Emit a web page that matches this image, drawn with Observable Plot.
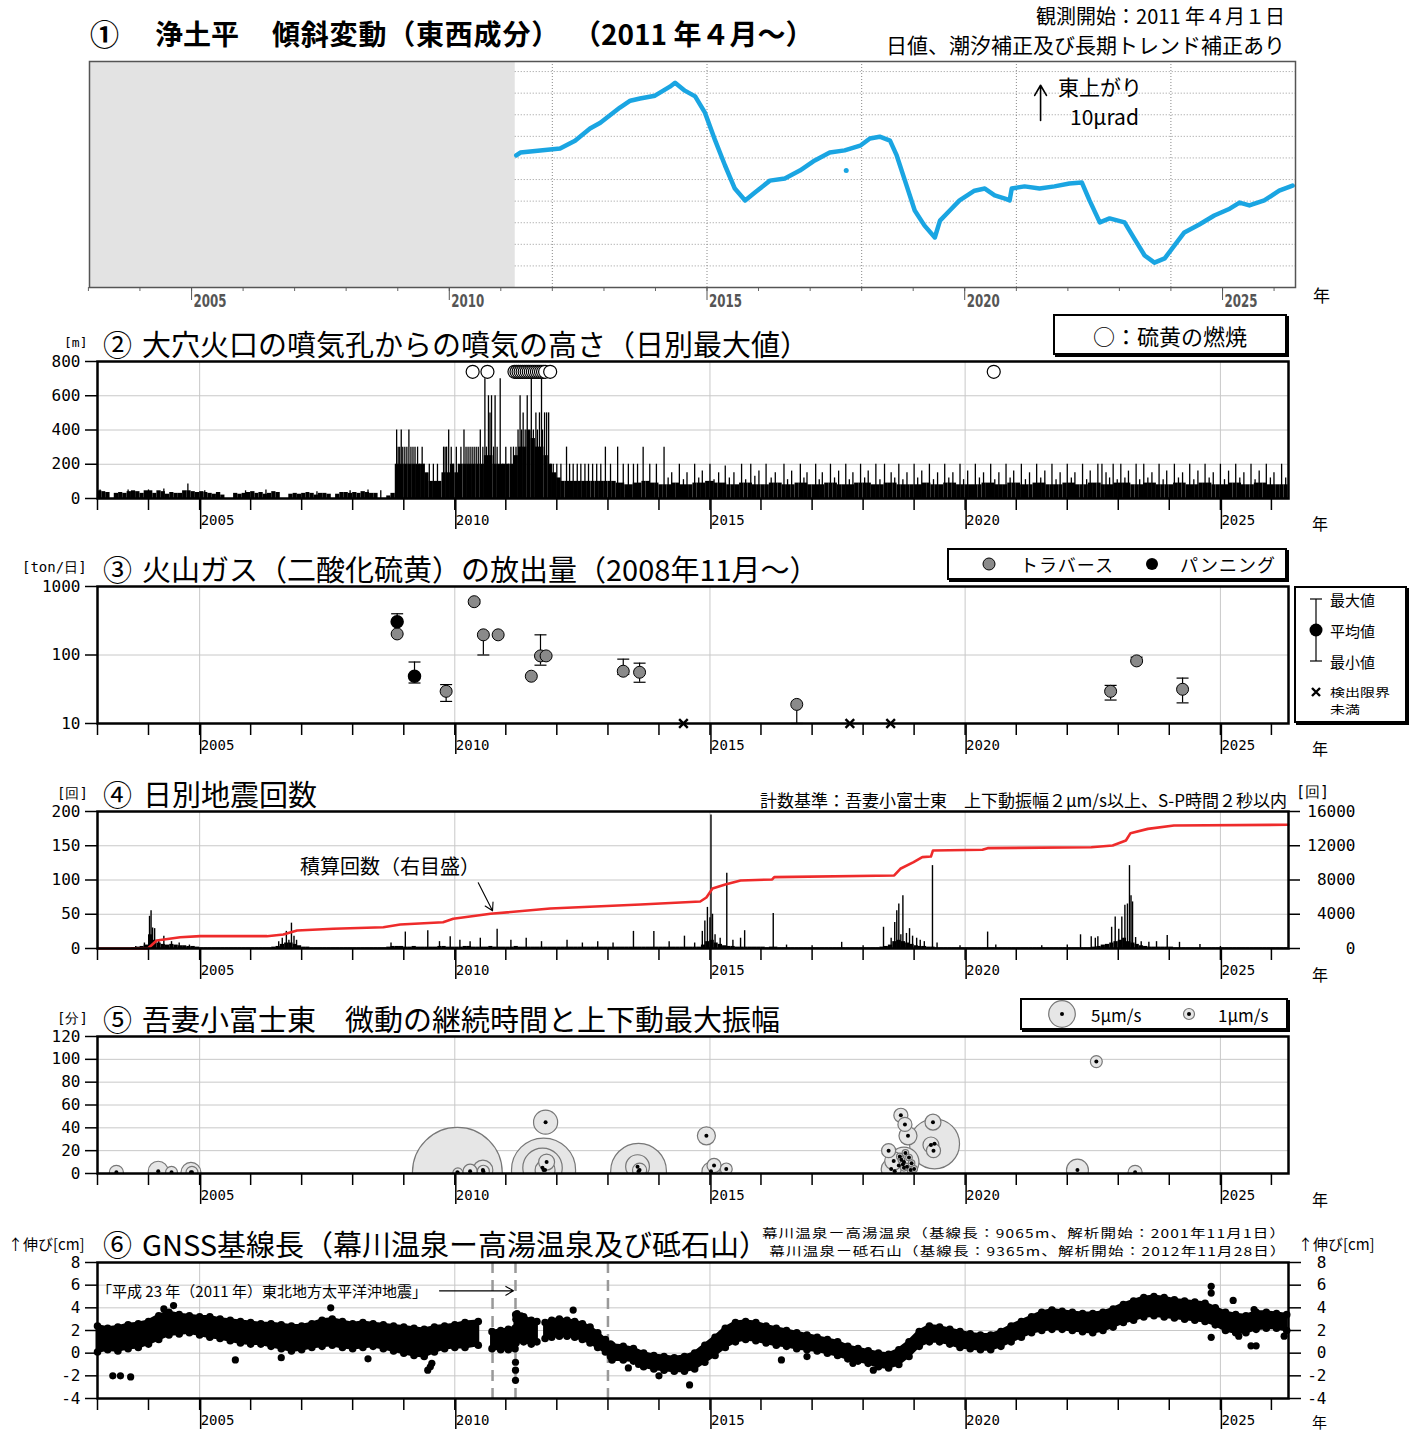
<!DOCTYPE html>
<html><head><meta charset="utf-8">
<script src="https://cdn.jsdelivr.net/npm/d3@7"></script>
<script src="https://cdn.jsdelivr.net/npm/@observablehq/plot@0.6"></script>
<style>
body{margin:0;background:#fff;}
#root{position:relative;width:1417px;height:1434px;overflow:hidden;font-family:"Noto Sans CJK JP",sans-serif;color:#000;background:#fff;}
.abs{position:absolute;white-space:nowrap;line-height:1;z-index:5;}
.box{position:absolute;border:2px solid #000;box-shadow:2px 2px 0 #000;background:#fff;z-index:4;}
</style></head><body><div id="root"></div>
<script>
// ---------------- DATA ----------------
// Panel 1: tilt (east-west), [decimal year, μrad]
const tilt = [[2011.30,36.7],[2011.38,37.5],[2012.15,38.6],[2012.44,40.8],[2012.73,44.2],[2012.93,45.8],[2013.31,50.0],[2013.51,51.9],[2013.70,52.5],[2013.99,53.3],[2014.28,55.8],[2014.38,56.9],[2014.57,54.7],[2014.77,53.1],[2014.96,48.6],[2015.16,40.8],[2015.35,33.9],[2015.54,27.5],[2015.74,24.2],[2015.93,26.4],[2016.22,29.7],[2016.51,30.3],[2016.80,32.5],[2017.09,35.3],[2017.38,37.5],[2017.67,38.1],[2017.97,39.4],[2018.16,41.4],[2018.35,41.9],[2018.55,40.8],[2018.68,36.7],[2018.84,29.7],[2019.03,21.4],[2019.22,17.2],[2019.42,13.9],[2019.52,18.6],[2019.71,21.4],[2019.90,24.2],[2020.19,26.9],[2020.39,27.5],[2020.58,25.6],[2020.78,24.7],[2020.87,24.2],[2020.91,27.5],[2021.16,28.1],[2021.45,27.5],[2021.74,28.1],[2022.03,28.9],[2022.27,29.2],[2022.42,24.2],[2022.62,18.1],[2022.81,19.2],[2023.10,18.1],[2023.29,13.6],[2023.49,8.9],[2023.68,6.9],[2023.88,8.1],[2024.07,11.7],[2024.26,15.3],[2024.55,17.5],[2024.84,20.0],[2025.14,21.9],[2025.33,23.6],[2025.52,22.8],[2025.81,24.2],[2026.10,26.9],[2026.36,28.3]];
const tiltOutliers = [[2017.70,32.5]];
const tiltNoData = [2003.02, 2011.28];
const tiltGridX = [2012, 2015, 2018, 2021, 2024];
const tiltGridY = [6, 12, 18, 24, 30, 36, 42, 48, 54, 60];
const tiltScale = [[2021.47, 46.4, 56.2]];

// Panel 2: plume height, monthly mass (m) from Jan 2003, spikes [year, m], sulfur burning dates
const p2Monthly = [
 45,40,35,0,30,35,30,40,45,40,30,45,
 45,30,45,40,25,35,30,30,45,45,40,35,
 40,35,30,25,35,20,0,0,30,25,30,35,
 40,30,35,25,30,40,35,0,0,25,30,25,
 30,35,30,20,30,30,25,0,25,35,35,30,
 35,30,40,35,30,30,0,0,15,30,200,200,
 200,200,200,200,200,150,100,100,100,150,150,200,
 150,200,200,200,200,200,200,250,250,200,200,200,
 200,200,250,300,300,400,350,300,300,250,200,150,
 120,100,100,100,100,100,100,100,100,100,100,100,
 100,100,90,90,80,80,90,90,100,100,90,90,
 80,80,80,90,90,80,80,80,90,90,90,100,
 100,90,90,90,80,80,80,90,90,90,80,80,
 80,80,90,90,90,80,80,80,90,90,90,80,
 80,80,80,90,90,90,80,80,80,80,90,90,
 90,90,80,80,80,90,90,90,80,80,80,80,
 80,80,90,90,80,80,80,90,90,90,80,80,
 80,80,80,80,90,90,90,80,80,80,90,90,
 90,80,80,80,90,90,90,80,80,80,80,90,
 90,90,80,80,80,90,90,90,80,80,80,90,
 90,90,90,80,80,80,90,90,90,80,80,80,
 80,90,90,90,80,80,80,90,90,90,80,80,
 80,80,90,90,90,80,80,80,90,90,90,80,
 80,80,80,80];
const p2Spikes = [[2003.05,50],[2003.6,50],[2004.0,50],[2004.3,55],[2004.77,85],[2005.1,45],[2005.9,45],[2006.3,50],[2007.3,40],[2007.95,45],[2008.3,50],[2008.55,45],
 [2008.86,400],[2008.89,300],[2008.92,300],[2008.95,400],[2008.98,300],[2009.02,300],[2009.06,300],[2009.1,400],[2009.14,300],[2009.18,300],[2009.22,300],[2009.27,300],[2009.31,200],[2009.36,300],[2009.4,200],[2009.5,200],[2009.58,200],[2009.66,200],[2009.78,300],[2009.81,300],[2009.84,300],[2009.88,400],[2009.93,300],[2009.97,200],[2010.03,300],[2010.07,200],[2010.12,300],[2010.18,400],[2010.22,300],[2010.26,300],[2010.3,300],[2010.34,300],[2010.38,300],[2010.42,300],[2010.46,300],[2010.5,400],[2010.55,300],[2010.59,700],[2010.62,300],[2010.66,600],[2010.69,500],[2010.72,600],[2010.76,300],[2010.79,600],[2010.83,300],[2010.89,700],[2010.94,200],[2011.0,300],[2011.05,200],[2011.1,300],[2011.15,300],[2011.2,300],[2011.24,400],[2011.28,600],[2011.31,400],[2011.34,500],[2011.38,400],[2011.42,600],[2011.46,300],[2011.5,700],[2011.54,400],[2011.59,500],[2011.62,400],[2011.66,500],[2011.7,700],[2011.72,400],[2011.76,500],[2011.8,500],[2011.84,500],[2011.88,200],[2011.93,200],
 [2012.0,200],[2012.08,200],[2012.19,300],[2012.25,200],[2012.32,200],[2012.4,200],[2012.47,200],[2012.55,200],[2012.62,200],[2012.7,200],[2012.78,200],[2012.86,200],[2012.95,300],[2013.05,200],[2013.19,300],[2013.3,200],[2013.4,200],[2013.5,200],[2013.58,200],[2013.69,300],[2013.82,200],[2013.95,200],[2014.1,300],[2014.18,120],[2014.25,150],[2014.4,200],[2014.48,110],[2014.55,150],[2014.7,200],[2014.78,120],[2014.85,160],[2015.0,200],[2015.08,110],[2015.17,150],[2015.3,190],[2015.38,120],[2015.47,150],[2015.62,200],[2015.7,110],[2015.8,200],[2015.88,130],[2015.96,160],[2016.1,200],[2016.2,120],[2016.28,150],[2016.45,200],[2016.52,110],[2016.6,160],[2016.77,200],[2016.84,120],[2016.9,150],[2017.07,200],[2017.14,110],[2017.2,150],[2017.36,200],[2017.44,120],[2017.52,160],[2017.66,200],[2017.73,110],[2017.8,150],[2017.95,200],[2018.03,120],[2018.1,160],[2018.25,200],[2018.33,110],[2018.42,200],[2018.55,150],[2018.62,120],[2018.7,200],[2018.78,110],[2018.86,150],[2019.0,200],[2019.07,120],[2019.15,160],[2019.3,200],[2019.38,110],[2019.46,150],[2019.6,200],[2019.68,120],[2019.76,150],[2019.9,200],[2019.97,110],[2020.05,160],[2020.2,200],[2020.28,120],[2020.36,150],[2020.5,200],[2020.58,110],[2020.66,150],[2020.8,200],[2020.88,120],[2020.95,160],[2021.1,200],[2021.18,110],[2021.26,150],[2021.4,200],[2021.48,120],[2021.56,160],[2021.7,200],[2021.78,110],[2021.86,150],[2022.0,200],[2022.08,120],[2022.15,150],[2022.3,200],[2022.38,110],[2022.45,160],[2022.6,200],[2022.68,200],[2022.76,150],[2022.83,120],[2022.9,200],[2022.98,110],[2023.05,200],[2023.13,120],[2023.2,160],[2023.35,200],[2023.42,110],[2023.5,200],[2023.58,120],[2023.66,150],[2023.8,200],[2023.88,110],[2023.95,160],[2024.1,200],[2024.18,120],[2024.26,150],[2024.4,200],[2024.48,110],[2024.56,160],[2024.7,200],[2024.78,120],[2024.86,150],[2025.0,200],[2025.08,110],[2025.16,160],[2025.3,200],[2025.38,120],[2025.46,150],[2025.6,200],[2025.68,110],[2025.76,160],[2025.9,200],[2025.98,120],[2026.05,150],[2026.2,200],[2026.28,120]];
const p2Sulfur = [2010.35,2010.64,2011.17,2011.21,2011.25,2011.29,2011.33,2011.37,2011.41,2011.45,2011.49,2011.53,2011.57,2011.61,2011.65,2011.69,2011.73,2011.77,2011.87,2020.56];

// Panel 3: SO2 emission [year, mean, min, max]
const so2Traverse = [[2008.87,203],[2009.83,29.5,21,37],[2010.38,600,560,640],[2010.56,197,100,197],[2010.85,197],[2011.50,49],[2011.68,97,71,197],[2011.79,97],[2013.30,58,52,87],[2013.62,56,40,76],[2016.70,19,10,19],[2022.85,29.5,22,36],[2023.36,82,78,93],[2024.26,31.6,20,46]];
const so2Panning = [[2008.87,306,203,400],[2009.21,49,39,79]];
const so2Undetected = [2014.48, 2017.74, 2018.54];

// Panel 4: daily earthquakes, monthly base counts from Jan 2003, spikes [year, count], cumulative [year, total]
const p4Monthly = [
 0,0,0,0,0,0,0,0,1,2,3,5,
 20,12,8,6,5,6,5,4,4,3,3,2,
 1,1,1,1,1,1,1,1,1,1,1,1,
 1,1,1,1,1,2,3,6,8,8,6,4,
 2,2,1,1,1,1,1,1,1,1,1,1,
 1,1,1,1,1,1,1,1,2,3,3,3,
 2,2,3,2,2,2,2,2,3,3,2,2,
 2,2,3,3,2,2,2,2,3,2,2,2,
 2,2,3,2,2,2,2,2,2,2,2,2,
 2,2,2,2,2,2,2,2,2,2,2,2,
 2,2,2,2,2,2,2,2,2,2,2,2,
 2,2,2,2,2,2,2,2,2,2,5,10,
 12,8,6,4,3,3,2,2,2,2,2,2,
 2,1,2,2,1,1,1,1,1,1,1,1,
 1,1,1,1,1,1,1,1,1,1,1,1,
 1,1,1,1,2,3,5,10,12,10,8,6,
 4,3,3,2,2,1,1,1,1,1,1,1,
 1,1,1,1,1,1,1,1,1,1,1,1,
 1,1,1,1,1,1,1,1,1,1,1,1,
 1,1,1,1,1,1,2,3,5,6,8,10,
 12,15,10,8,6,4,3,2,2,2,2,2,
 2,1,1,1,1,1,1,1,1,1,1,1,
 1,1,1,1,1,1,1,1,1,1,1,1,
 1,1,1,1];
const p4Spikes = [[2003.75,3],[2003.92,8],[2004.02,47],[2004.05,55],[2004.08,30],[2004.12,29],[2004.2,12],[2004.3,18],[2004.45,10],[2004.6,8],[2004.8,5],[2006.55,10],[2006.62,15],[2006.7,25],[2006.75,12],[2006.8,37],[2006.85,18],[2006.9,12],[2008.75,8],[2009.03,24],[2009.47,26],[2009.7,10],[2009.91,17],[2010.1,12],[2010.3,10],[2010.5,15],[2010.83,28],[2011.1,12],[2011.4,15],[2011.7,10],[2012.2,12],[2012.5,8],[2012.8,10],[2013.1,8],[2013.5,25],[2013.9,25],[2014.2,10],[2014.5,18],[2014.7,8],[2014.85,25],[2014.9,40],[2014.95,60],[2015.0,45],[2015.02,195],[2015.05,50],[2015.1,20],[2015.2,15],[2015.33,110],[2015.45,12],[2015.6,15],[2015.68,26],[2016.24,51],[2016.5,5],[2017.0,4],[2017.58,9],[2018.0,4],[2018.4,31],[2018.55,15],[2018.62,38],[2018.66,55],[2018.7,65],[2018.74,20],[2018.78,77],[2018.85,22],[2018.91,29],[2018.97,18],[2019.05,15],[2019.12,12],[2019.2,10],[2019.36,121],[2019.45,8],[2019.9,4],[2020.44,24],[2020.6,5],[2021.5,4],[2022.0,5],[2022.26,20],[2022.47,17],[2022.55,15],[2022.6,17],[2022.87,31],[2022.94,46],[2023.01,28],[2023.07,46],[2023.13,63],[2023.18,65],[2023.22,121],[2023.25,77],[2023.28,68],[2023.34,16],[2023.45,10],[2023.6,9],[2023.75,10],[2023.96,19],[2024.2,9],[2024.6,6],[2025.0,3]];
const p4Cumulative = [[2003.0,0],[2003.99,0],[2004.16,934],[2004.62,1320],[2005.01,1440],[2006.32,1440],[2006.64,1630],[2006.91,2100],[2007.62,2300],[2008.60,2490],[2008.93,2800],[2009.77,3070],[2009.97,3470],[2010.70,4050],[2011.87,4670],[2013.64,5140],[2014.81,5490],[2014.93,5960],[2015.05,7000],[2015.30,7470],[2015.60,7940],[2016.22,8060],[2016.26,8330],[2018.61,8530],[2018.73,9310],[2018.99,10080],[2019.16,10670],[2019.33,10740],[2019.37,11450],[2020.34,11530],[2020.44,11720],[2022.47,11830],[2022.89,12030],[2023.15,12610],[2023.24,13470],[2023.58,13970],[2024.09,14360],[2026.33,14450]];
const p4Pointer = [[2010.46,96,2010.74,55]];

// Panel 5: tremor [year, duration (min), max vertical amplitude μm/s]
const tremor = [[2003.37,1,1.4],[2004.19,2,2.8],[2004.45,1,1.0],[2004.83,1,2.8],[2004.85,1,1.0],[2010.05,1,57],[2010.06,0.5,0.7],[2010.3,2,1.4],[2010.55,3,2.8],[2010.56,2,1.0],[2011.78,45,4.1],[2011.74,3,29],[2011.72,5,11],[2011.8,10,1.8],[2011.77,3,2.8],[2013.6,2,22],[2013.58,6,4],[2013.62,3,1.4],[2014.93,33,2.3],[2015.08,7,1.4],[2015.02,2,2.3],[2015.32,4,1.0],[2018.74,51,1.4],[2018.82,43,1.4],[2018.88,33,2.3],[2018.5,20,1.4],[2018.6,11,2.3],[2018.7,7,4],[2018.8,10,6.4],[2018.55,4,2.8],[2018.62,2,4.8],[2018.72,15,0.3],[2018.75,12,0.3],[2018.78,8,0.3],[2018.8,5,0.3],[2018.83,18,0.3],[2018.86,6,0.3],[2018.9,14,0.3],[2018.93,3,0.3],[2018.95,9,0.3],[2019.0,4,0.3],[2019.37,45,1.8],[2019.4,26,17.7],[2019.33,25,1.8],[2019.38,20,1.4],[2022.2,3,3.4],[2022.57,98,1.0],[2023.33,1,1.4]];

// Panel 6: GNSS baseline bands [year, low, high] (cm) and single points
const gnssA = [[2003.0,0.1,2.4],[2003.2,0.3,2.2],[2003.4,0.2,2.3],[2003.6,0.4,2.5],[2003.8,0.5,2.6],[2004.0,0.8,2.8],[2004.2,1.2,3.3],[2004.4,1.6,3.6],[2004.6,1.7,3.4],[2004.8,1.8,3.3],[2005.0,1.6,3.2],[2005.2,1.4,3.2],[2005.4,1.3,3.0],[2005.6,1.1,2.9],[2005.8,0.9,2.8],[2006.0,0.8,2.7],[2006.2,0.8,2.6],[2006.4,0.6,2.6],[2006.6,0.4,2.5],[2006.8,0.2,2.4],[2007.0,0.3,2.4],[2007.2,0.5,2.6],[2007.4,0.6,2.9],[2007.6,0.7,3.0],[2007.8,0.5,2.8],[2008.0,0.4,2.6],[2008.2,0.5,2.7],[2008.4,0.6,2.6],[2008.6,0.4,2.5],[2008.8,0.2,2.4],[2009.0,0.0,2.3],[2009.2,-0.2,2.2],[2009.4,-0.3,2.1],[2009.6,0.1,2.3],[2009.8,0.4,2.4],[2010.0,0.5,2.5],[2010.2,0.5,2.7],[2010.46,0.7,2.8]];
const gnssB = [[2010.73,0.4,1.9],[2010.9,0.3,2.0],[2011.05,0.3,2.1],[2011.18,0.4,2.2],[2011.2,0.9,3.0],[2011.35,1.0,3.2],[2011.5,0.8,2.9],[2011.61,1.0,2.8]];
const gnssC = [[2011.77,1.3,2.7],[2011.9,1.4,2.9],[2012.05,1.5,3.0],[2012.2,1.5,2.9],[2012.35,1.4,2.8],[2012.5,1.2,2.6],[2012.65,0.9,2.3],[2012.8,0.5,1.8],[2012.95,0.1,1.2],[2013.05,-0.3,0.8]];
const gnssD = [[2013.08,-0.6,0.7],[2013.3,-0.6,0.6],[2013.5,-0.7,0.4],[2013.7,-1.2,0.0],[2013.9,-1.4,-0.2],[2014.1,-1.5,-0.3],[2014.3,-1.6,-0.4],[2014.5,-1.6,-0.3],[2014.7,-1.4,0.0],[2014.9,-0.8,0.7],[2015.1,-0.2,1.4],[2015.3,0.5,2.2],[2015.5,1.0,2.7],[2015.7,1.2,2.8],[2015.9,1.1,2.7],[2016.1,0.9,2.4],[2016.3,0.7,2.2],[2016.5,0.6,2.0],[2016.7,0.4,1.8],[2016.9,0.3,1.6],[2017.1,0.2,1.4],[2017.3,0.0,1.2],[2017.5,-0.2,1.0],[2017.7,-0.5,0.6],[2017.9,-0.7,0.4],[2018.1,-0.9,0.2],[2018.3,-1.2,0.0],[2018.5,-1.3,-0.1],[2018.7,-1.0,0.3],[2018.9,-0.3,1.0],[2019.1,0.6,1.9],[2019.3,1.0,2.4],[2019.5,1.0,2.3],[2019.7,0.8,2.1],[2019.9,0.5,1.9],[2020.1,0.4,1.7],[2020.3,0.3,1.6],[2020.5,0.3,1.6],[2020.7,0.6,1.9],[2020.9,1.0,2.4],[2021.1,1.4,2.8],[2021.3,1.8,3.2],[2021.5,2.0,3.6],[2021.7,2.1,3.8],[2021.9,2.1,3.7],[2022.1,2.0,3.6],[2022.3,1.9,3.5],[2022.5,1.8,3.5],[2022.7,2.0,3.6],[2022.9,2.3,3.9],[2023.1,2.7,4.3],[2023.3,2.9,4.6],[2023.5,3.2,4.9],[2023.7,3.3,5.0],[2023.9,3.2,4.9],[2024.1,3.1,4.7],[2024.3,3.0,4.6],[2024.5,2.9,4.5],[2024.7,2.8,4.4],[2024.9,2.5,4.0],[2025.1,2.0,3.6],[2025.3,1.8,3.4],[2025.5,1.8,3.3],[2025.7,2.1,3.6],[2025.9,2.2,3.6],[2026.1,2.2,3.5],[2026.3,2.0,3.4]];
const gnssPoints = [[2003.3,-2.0],[2003.45,-2.0],[2003.65,-2.1],[2004.49,4.2],[2004.3,3.9],[2005.7,-0.6],[2006.6,-0.4],[2007.57,4.0],[2008.3,-0.5],[2009.47,-1.5],[2009.52,-1.2],[2009.55,-0.9],[2011.19,-2.4],[2011.19,-1.5],[2011.19,-0.8],[2011.19,3.4],[2011.22,3.5],[2011.3,3.3],[2012.32,3.8],[2013.4,-1.3],[2013.6,-1.0],[2014.0,-2.0],[2014.6,-2.8],[2016.4,-0.6],[2016.9,-0.3],[2017.8,-0.9],[2018.2,-1.5],[2024.82,5.9],[2024.82,5.3],[2024.82,1.4],[2025.36,1.5],[2025.6,0.65],[2025.7,0.65],[2025.66,3.85],[2025.25,4.65],[2026.25,1.5]];
const gnssBreaks = [2010.74, 2011.19, 2013.0];
const gnssPointer = [[2009.7,5.5,2011.15,5.5]];

const yearTicks = d3.range(2003, 2027);
const yearMajor = [2005, 2010, 2015, 2020, 2025];

// ---------------- HELPERS ----------------
const root = document.getElementById("root");
const CJK = '"Noto Sans CJK JP", sans-serif';
const MONO = '"DejaVu Sans Mono", monospace';
const dy = v => { const y = Math.floor(v); const s = Date.UTC(y,0,1), e = Date.UTC(y+1,0,1); return new Date(s + (v - y) * (e - s)); };
const yd = y => new Date(Date.UTC(y,0,1));
const monthRects = vals => vals.map((v,i) => ({x1: new Date(Date.UTC(2003, i, 1)), x2: new Date(Date.UTC(2003, i+1, 1)), v}));
const X_DOMAIN = [dy(2003.0), dy(2026.335)];
const GRID = "#c8c8c8";

function txt(s, x, yc, o = {}) {
  const size = o.size || 16;
  const d = document.createElement("div");
  d.className = "abs";
  d.textContent = s;
  d.style.fontSize = size + "px";
  d.style.fontFamily = o.family || CJK;
  d.style.fontWeight = o.weight || 400;
  d.style.color = o.color || "#000";
  if (o.ls) d.style.letterSpacing = o.ls + "px";
  d.style.top = (yc - size / 2) + "px";
  const sy = o.sy ? ` scaleY(${o.sy})` : "";
  if (o.anchor === "end") { d.style.right = (1417 - x) + "px"; d.style.transform = sy.trim(); }
  else if (o.anchor === "middle") { d.style.left = x + "px"; d.style.transform = "translateX(-50%)" + sy; }
  else { d.style.left = x + "px"; d.style.transform = sy.trim(); }
  root.appendChild(d);
  return d;
}
function place(el, top) {
  const w = document.createElement("div");
  w.style.position = "absolute"; w.style.left = "0px"; w.style.top = top + "px";
  w.appendChild(el); root.appendChild(w);
  return el;
}
function box(x, y, w, h) {
  const b = document.createElement("div");
  b.className = "box";
  b.style.left = x + "px"; b.style.top = y + "px"; b.style.width = (w - 4) + "px"; b.style.height = (h - 4) + "px";
  root.appendChild(b);
  return b;
}
const baseStyle = {fontFamily: MONO, fontSize: "16px", color: "#000", background: "none", overflow: "visible"};
const xAxes = () => [
  Plot.axisX({ticks: yearTicks.map(yd), tickSize: 12, tickFormat: () => "", strokeWidth: 1.5, label: null}),
  Plot.axisX({ticks: yearMajor.map(yd), tickSize: 31, tickPadding: -14, textAnchor: "start", dx: 1, lineAnchor: "top", fontSize: 14, tickFormat: d => String(d.getUTCFullYear()), strokeWidth: 1.5, label: null})
];
const rightAxis = (ticks, fmt, size, pad) => [
  Plot.axisY({anchor: "right", ticks, tickSize: size, tickFormat: () => "", strokeWidth: 1.5, label: null}),
  Plot.axisY({anchor: "right", ticks, tickSize: 0, tickPadding: pad, tickFormat: fmt, textAnchor: "end", label: null})
];
const common = (h) => ({width: 1417, height: h, marginTop: 6, marginLeft: 97, marginRight: 129, style: baseStyle, x: {type: "utc", domain: X_DOMAIN}});
const capSymbol = {draw(ctx) { ctx.moveTo(-6, 0); ctx.lineTo(6, 0); }};

// ---------------- PANEL 1 ----------------
const tiltDomain = [dy(2003.021), dy(2026.416)];
const p1 = place(Plot.plot({
  width: 1417, height: 262, marginTop: 6, marginBottom: 30, marginLeft: 89, marginRight: 122,
  style: baseStyle,
  x: {type: "utc", domain: tiltDomain},
  y: {domain: [0, 62.8], axis: null},
  marks: [
    Plot.rect([tiltNoData], {x1: d => dy(d[0]), x2: d => dy(d[1]), fill: "#e3e3e3"}),
    Plot.ruleY(tiltGridY, {x1: dy(tiltNoData[1]), x2: tiltDomain[1], stroke: "#999", strokeDasharray: "1,2"}),
    Plot.ruleX(tiltGridX, {x: d => yd(d), stroke: "#888", strokeDasharray: "1,2"}),
    Plot.line(tilt, {x: d => dy(d[0]), y: d => d[1], stroke: "#1aa5e2", strokeWidth: 4.5, strokeLinejoin: "round"}),
    Plot.dot(tiltOutliers, {x: d => dy(d[0]), y: d => d[1], r: 2.5, fill: "#1aa5e2"}),
    Plot.arrow(tiltScale, {x1: d => dy(d[0]), x2: d => dy(d[0]), y1: d => d[1], y2: d => d[2], stroke: "#000", strokeWidth: 1.6, headLength: 14}),
    Plot.axisX({ticks: yearTicks.map(yd), tickSize: 4, tickFormat: () => "", stroke: "#666", label: null}),
    Plot.axisX({ticks: yearMajor.map(yd), tickSize: 13, tickPadding: -6, textAnchor: "start", lineAnchor: "top", fontSize: 18, fontWeight: "bold", fill: "#555", stroke: "#555", fontFamily: '"DejaVu Sans", sans-serif', tickFormat: d => String(d.getUTCFullYear()), label: null}),
    Plot.frame({stroke: "#555", strokeWidth: 1.5})
  ]
}), 55);
p1.querySelectorAll("text").forEach(t => {
  if (/^20\d\d$/.test(t.textContent)) { t.setAttribute("textLength", "33"); t.setAttribute("lengthAdjust", "spacingAndGlyphs"); t.setAttribute("dx", "2"); }
});

// ---------------- PANEL 2 ----------------
place(Plot.plot({
  ...common(183), marginBottom: 40,
  y: {domain: [0, 800]},
  marks: [
    Plot.gridY({ticks: [200, 400, 600], stroke: GRID, strokeOpacity: 1}),
    Plot.gridX({ticks: yearMajor.map(yd), stroke: GRID, strokeOpacity: 1}),
    Plot.rect(monthRects(p2Monthly), {x1: "x1", x2: "x2", y1: 0, y2: "v", fill: "#000"}),
    Plot.ruleX(p2Spikes, {x: d => dy(d[0]), y1: 0, y2: d => d[1], stroke: "#000", strokeWidth: 1.3}),
    Plot.dot(p2Sulfur, {x: d => dy(d), y: 740, r: 6.5, fill: "#fff", stroke: "#000", strokeWidth: 1.2}),
    Plot.axisY({ticks: [0, 200, 400, 600, 800], tickSize: 12, tickPadding: 5, strokeWidth: 1.5, label: null}),
    ...xAxes(),
    Plot.frame({stroke: "#000", strokeWidth: 2.5})
  ]
}), 355);

// ---------------- PANEL 3 ----------------
const so2All = [...so2Traverse, ...so2Panning];
place(Plot.plot({
  ...common(183), marginBottom: 40,
  y: {type: "log", domain: [10, 1000]},
  marks: [
    Plot.gridY({ticks: [100], stroke: GRID, strokeOpacity: 1}),
    Plot.gridX({ticks: yearMajor.map(yd), stroke: GRID, strokeOpacity: 1}),
    Plot.ruleX(so2All.filter(d => d[2] != null), {x: d => dy(d[0]), y1: d => d[2], y2: d => d[3], stroke: "#000", strokeWidth: 1.2}),
    Plot.dot(so2All.filter(d => d[2] != null && d[3] > d[1] * 1.05), {x: d => dy(d[0]), y: d => d[3], symbol: capSymbol, stroke: "#000", fill: "none", strokeWidth: 1.2}),
    Plot.dot(so2All.filter(d => d[2] != null && d[2] < d[1] * 0.95), {x: d => dy(d[0]), y: d => d[2], symbol: capSymbol, stroke: "#000", fill: "none", strokeWidth: 1.2}),
    Plot.dot(so2Traverse, {x: d => dy(d[0]), y: d => d[1], r: 6, fill: "#8a8a8a", stroke: "#000", strokeWidth: 1}),
    Plot.dot(so2Panning, {x: d => dy(d[0]), y: d => d[1], r: 6, fill: "#000", stroke: "#000"}),
    Plot.dot(so2Undetected, {x: d => dy(d), y: 10, symbol: "times", r: 4, stroke: "#000", strokeWidth: 2.4}),
    Plot.axisY({ticks: [10, 100, 1000], tickFormat: d => String(d), tickSize: 12, tickPadding: 5, strokeWidth: 1.5, label: null}),
    ...xAxes(),
    Plot.frame({stroke: "#000", strokeWidth: 2.5})
  ]
}), 580);

// ---------------- PANEL 4 ----------------
place(Plot.plot({
  ...common(183), marginBottom: 40,
  y: {domain: [0, 200]},
  marks: [
    Plot.gridY({ticks: [50, 100, 150], stroke: GRID, strokeOpacity: 1}),
    Plot.gridX({ticks: yearMajor.map(yd), stroke: GRID, strokeOpacity: 1}),
    Plot.rect(monthRects(p4Monthly), {x1: "x1", x2: "x2", y1: 0, y2: "v", fill: "#000"}),
    Plot.ruleX(p4Spikes, {x: d => dy(d[0]), y1: 0, y2: d => d[1], stroke: "#000", strokeWidth: 1.4}),
    Plot.line(p4Cumulative, {x: d => dy(d[0]), y: d => d[1] / 80, stroke: "#ee2b2b", strokeWidth: 2.6}),
    Plot.arrow(p4Pointer, {x1: d => dy(d[0]), y1: d => d[1], x2: d => dy(d[2]), y2: d => d[3], stroke: "#000", strokeWidth: 1.1, headLength: 12}),
    Plot.axisY({ticks: [0, 50, 100, 150, 200], tickSize: 12, tickPadding: 5, strokeWidth: 1.5, label: null}),
    ...rightAxis([0, 50, 100, 150, 200], d => String(d * 80), 11, 67),
    ...xAxes(),
    Plot.frame({stroke: "#000", strokeWidth: 2.5})
  ]
}), 805);

// ---------------- PANEL 5 ----------------
const tremorSorted = [...tremor].sort((a, b) => b[2] - a[2]);
place(Plot.plot({
  ...common(183), marginBottom: 40,
  y: {domain: [0, 120]},
  r: {type: "sqrt", domain: [0, 5], range: [0, 13.3]},
  marks: [
    Plot.gridY({ticks: [20, 40, 60, 80, 100], stroke: GRID, strokeOpacity: 1}),
    Plot.gridX({ticks: yearMajor.map(yd), stroke: GRID, strokeOpacity: 1}),
    Plot.dot(tremorSorted, {x: d => dy(d[0]), y: d => d[1], r: d => d[2], fill: "#e6e6e6", stroke: "#777", strokeWidth: 1.2, clip: true}),
    Plot.dot(tremorSorted, {x: d => dy(d[0]), y: d => d[1], r: 2, fill: "#000", clip: true}),
    Plot.axisY({ticks: [0, 20, 40, 60, 80, 100, 120], tickSize: 12, tickPadding: 5, strokeWidth: 1.5, label: null}),
    ...xAxes(),
    Plot.frame({stroke: "#000", strokeWidth: 2.5})
  ]
}), 1030);

// ---------------- PANEL 6 ----------------
const seg = (arr, id) => arr.map(d => ({t: dy(d[0]), lo: d[1], hi: d[2], id}));
const gnssBands = [...seg(gnssA, "A"), ...seg(gnssB, "B"), ...seg(gnssC, "C"), ...seg(gnssD, "D")];
place(Plot.plot({
  ...common(178), marginBottom: 36,
  y: {domain: [-4, 8]},
  marks: [
    Plot.gridY({ticks: [-2, 0, 2, 4, 6], stroke: GRID, strokeOpacity: 1}),
    Plot.gridX({ticks: yearMajor.map(yd), stroke: GRID, strokeOpacity: 1}),
    Plot.ruleX(gnssBreaks, {x: d => dy(d), stroke: "#999", strokeWidth: 2.5, strokeDasharray: "11,7"}),
    Plot.areaY(gnssBands, {x: "t", y1: "lo", y2: "hi", z: "id", fill: "#000", stroke: "#000", strokeWidth: 3, strokeLinejoin: "round"}),
    Plot.dot(gnssBands, {x: "t", y: "lo", r: 3.8, fill: "#000"}),
    Plot.dot(gnssBands, {x: "t", y: "hi", r: 3.8, fill: "#000"}),
    Plot.dot(gnssPoints, {x: d => dy(d[0]), y: d => d[1], r: 3.6, fill: "#000"}),
    Plot.arrow(gnssPointer, {x1: d => dy(d[0]), y1: d => d[1], x2: d => dy(d[2]), y2: d => d[3], stroke: "#000", strokeWidth: 1.1, headLength: 12}),
    Plot.axisY({ticks: [-4, -2, 0, 2, 4, 6, 8], tickFormat: d => String(d), tickSize: 12, tickPadding: 5, strokeWidth: 1.5, label: null}),
    ...rightAxis([-4, -2, 0, 2, 4, 6, 8], d => String(d), 12, 38),
    ...xAxes(),
    Plot.frame({stroke: "#000", strokeWidth: 2.5})
  ]
}), 1256);

// ---------------- TEXT ----------------
// Panel 1
txt("①", 90, 33, {size: 29, weight: 700});
txt("浄土平", 155, 33, {size: 28, weight: 700});
txt("傾斜変動（東西成分）", 272, 33, {size: 28, weight: 700, ls: 0.8});
txt("（2011 年４月～）", 573, 33, {size: 28, weight: 700});
txt("観測開始：2011 年４月１日", 1285, 16, {size: 20, anchor: "end"});
txt("日値、潮汐補正及び長期トレンド補正あり", 1285, 44, {size: 21, anchor: "end"});
txt("東上がり", 1058, 86, {size: 21});
txt("10μrad", 1070, 116, {size: 21});
txt("年", 1313, 294, {size: 17});

// Panel 2
txt("[m]", 64, 342, {size: 13, family: MONO});
txt("②", 103, 343, {size: 29});
txt("大穴火口の噴気孔からの噴気の高さ（日別最大値）", 142, 343, {size: 29});
box(1053, 314, 234, 41);
txt("○：硫黄の燃焼", 1170, 335, {size: 22, anchor: "middle"});
txt("年", 1312, 523, {size: 16});

// Panel 3
txt("[ton/日]", 22, 567, {size: 14, family: MONO});
txt("③", 103, 568, {size: 29});
txt("火山ガス（二酸化硫黄）の放出量（2008年11月～）", 142, 568, {size: 29});
box(947, 548, 340, 32);
txt("トラバース", 1020, 564, {size: 18, ls: 1});
txt("パンニング", 1180, 564, {size: 18, ls: 1});
box(1294, 586, 113, 137);
txt("最大値", 1330, 599, {size: 15});
txt("平均値", 1330, 630, {size: 15});
txt("最小値", 1330, 661, {size: 15});
txt("検出限界", 1330, 691, {size: 15, sy: 0.78});
txt("未満", 1330, 708.5, {size: 15, sy: 0.78});
txt("年", 1312, 748, {size: 16});
const leg3 = document.createElementNS("http://www.w3.org/2000/svg", "svg");
leg3.setAttribute("width", "1417"); leg3.setAttribute("height", "1434");
leg3.style.position = "absolute"; leg3.style.left = "0"; leg3.style.top = "0"; leg3.style.zIndex = 6; leg3.style.pointerEvents = "none";
leg3.innerHTML = `
 <circle cx="989" cy="564" r="6" fill="#8a8a8a" stroke="#000"/>
 <circle cx="1152" cy="564" r="6" fill="#000"/>
 <line x1="1316" y1="599" x2="1316" y2="661" stroke="#000" stroke-width="1.2"/>
 <line x1="1310" y1="599" x2="1322" y2="599" stroke="#000" stroke-width="1.2"/>
 <line x1="1310" y1="661" x2="1322" y2="661" stroke="#000" stroke-width="1.2"/>
 <circle cx="1316" cy="630" r="6.5" fill="#000"/>
 <path d="M1312,688 L1320,696 M1320,688 L1312,696" stroke="#000" stroke-width="2.4"/>
 <circle cx="1062" cy="1014" r="13.3" fill="#e6e6e6" stroke="#777" stroke-width="1.2"/>
 <circle cx="1062" cy="1014" r="2" fill="#000"/>
 <circle cx="1189" cy="1014" r="5.5" fill="#e6e6e6" stroke="#777" stroke-width="1.2"/>
 <circle cx="1189" cy="1014" r="2" fill="#000"/>`;

// Panel 4
txt("[回]", 57, 793, {size: 14, family: MONO});
txt("④", 103, 793, {size: 29});
txt("日別地震回数", 143, 793, {size: 29});
txt("計数基準：吾妻小富士東　上下動振幅２μm/s以上、S-P時間２秒以内", 1287, 799, {size: 17, anchor: "end"});
txt("[回]", 1296, 792, {size: 15, family: MONO});
txt("積算回数（右目盛）", 300, 866, {size: 20});
txt("年", 1312, 974, {size: 16});

// Panel 5
txt("[分]", 57, 1018, {size: 14, family: MONO});
txt("⑤", 103, 1018, {size: 29});
txt("吾妻小富士東　微動の継続時間と上下動最大振幅", 142, 1018, {size: 29});
box(1020, 998, 268, 32);
txt("5μm/s", 1091, 1014, {size: 17});
txt("1μm/s", 1218, 1014, {size: 17});
txt("年", 1312, 1199, {size: 16});

// Panel 6
txt("↑伸び[cm]", 8, 1243, {size: 15});
txt("⑥", 103, 1243, {size: 29});
txt("GNSS基線長（幕川温泉ー高湯温泉及び砥石山）", 142, 1243, {size: 29});
txt("幕川温泉ー高湯温泉（基線長：9065m、解析開始：2001年11月1日）", 1024, 1233, {size: 15.5, ls: 1.2, sy: 0.78, anchor: "middle"});
txt("幕川温泉ー砥石山（基線長：9365m、解析開始：2012年11月28日）", 1028, 1250.5, {size: 15.5, ls: 1.2, sy: 0.78, anchor: "middle"});
txt("↑伸び[cm]", 1298, 1243, {size: 15});
txt("「平成 23 年（2011 年）東北地方太平洋沖地震」", 97, 1290, {size: 15});
txt("年", 1312, 1421, {size: 15});

root.appendChild(leg3);
</script></body></html>
